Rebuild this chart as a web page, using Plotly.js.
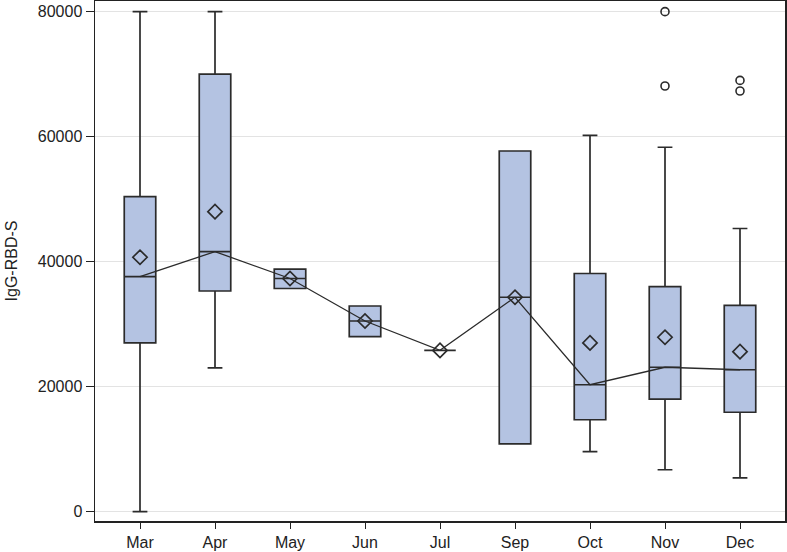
<!DOCTYPE html>
<html>
<head>
<meta charset="utf-8">
<script src="https://cdn.plot.ly/plotly-3.0.1.min.js"></script>
<style>html,body{margin:0;padding:0;background:#fff;}#chart{width:787px;height:552px;}</style>
</head>
<body>
<div id="chart"></div>
<script>
var months = ["Mar","Apr","May","Jun","Jul","Sep","Oct","Nov","Dec"];
var lowerWhisker = [0, 23000, 35700, 28000, 25800, 10850, 9600, 6700, 5400];
var q1Values = [27000, 35300, 35700, 28000, 25800, 10850, 14700, 18000, 15900];
var medianValues = [37600, 41600, 37300, 30500, 25800, 34300, 20300, 23100, 22700];
var q3Values = [50400, 70000, 38800, 32900, 25800, 57700, 38100, 36000, 33000];
var upperWhisker = [80000, 80000, 38800, 32900, 25800, 57700, 60200, 58300, 45300];
var meanValues = [40700, 48000, 37300, 30500, 25800, 34300, 27000, 27900, 25600];
var outlierMonths = ["Nov","Nov","Dec","Dec"];
var outlierValues = [80000, 68100, 69000, 67300];

var lineCol = "#2b2b2b";
var traces = [
  {
    type: "box",
    x: months,
    q1: q1Values,
    median: medianValues,
    q3: q3Values,
    lowerfence: lowerWhisker,
    upperfence: upperWhisker,
    boxpoints: false,
    width: 0.42,
    whiskerwidth: 0.47,
    fillcolor: "#b4c3e2",
    line: {color: lineCol, width: 1.7},
    hoverinfo: "skip",
    showlegend: false
  },
  {
    type: "scatter",
    mode: "lines",
    x: months,
    y: medianValues,
    line: {color: lineCol, width: 1.3},
    hoverinfo: "skip",
    showlegend: false
  },
  {
    type: "scatter",
    mode: "markers",
    x: months,
    y: meanValues,
    marker: {symbol: "diamond-open", size: 11, color: lineCol, line: {width: 1.7, color: lineCol}},
    hoverinfo: "skip",
    showlegend: false
  },
  {
    type: "scatter",
    mode: "markers",
    x: outlierMonths,
    y: outlierValues,
    marker: {symbol: "circle-open", size: 8, color: lineCol, line: {width: 1.6, color: lineCol}},
    hoverinfo: "skip",
    showlegend: false
  }
];

var layout = {
  width: 787,
  height: 552,
  margin: {l: 95, r: 2, t: 1, b: 31},
  paper_bgcolor: "#ffffff",
  plot_bgcolor: "#ffffff",
  font: {family: "Arial, 'Liberation Sans', sans-serif", size: 16, color: "#222"},
  showlegend: false,
  xaxis: {
    type: "category",
    categoryorder: "array",
    categoryarray: months,
    range: [-0.6, 8.6],
    showgrid: false,
    showline: true,
    linecolor: "#222",
    linewidth: 1.5,
    mirror: true,
    ticks: "outside",
    ticklen: 6,
    tickcolor: "#222",
    tickfont: {size: 16, color: "#222"}
  },
  yaxis: {
    range: [-1500, 81700],
    tickvals: [0, 20000, 40000, 60000, 80000],
    ticktext: ["0", "20000", "40000", "60000", "80000"],
    showgrid: true,
    gridcolor: "#e3e3e3",
    gridwidth: 1.5,
    zeroline: false,
    showline: true,
    linecolor: "#222",
    linewidth: 1.5,
    mirror: true,
    ticks: "outside",
    ticklen: 8,
    tickcolor: "#222",
    tickfont: {size: 16, color: "#222"},
    title: {text: "IgG-RBD-S", font: {size: 16, color: "#222"}, standoff: 16}
  }
};

Plotly.newPlot("chart", traces, layout, {displayModeBar: false, staticPlot: true});
</script>
</body>
</html>
